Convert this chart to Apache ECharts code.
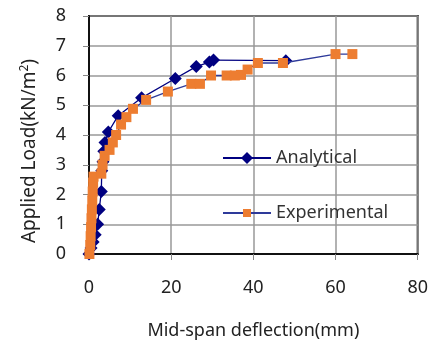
<!DOCTYPE html>
<html>
<head>
<meta charset="utf-8">
<script src="https://cdn.jsdelivr.net/npm/echarts@6/dist/echarts.min.js"></script>
<style>
  html, body { margin: 0; padding: 0; background: #fff; }
  #chart { width: 431px; height: 345px; }
</style>
</head>
<body>
<div id="chart"></div>
<script>
// data: [deflection mm, load kN/m2]
var analytical = [
  [0, 0], [0.5, 0.2], [1.0, 0.4], [1.5, 0.65], [2.1, 1.0], [2.5, 1.5], [3.0, 2.1],
  [3.1, 2.8], [3.4, 3.1], [3.6, 3.45], [3.9, 3.75], [4.7, 4.1], [7.1, 4.65],
  [12.8, 5.25], [21.0, 5.9], [26.1, 6.3], [29.3, 6.45], [30.3, 6.52], [47.9, 6.5]
];
var experimental = [
  [0.1, 0], [0.3, 0.3], [0.4, 0.6], [0.5, 0.9], [0.6, 1.2], [0.7, 1.5], [0.8, 1.8],
  [0.9, 2.1], [1.0, 2.4], [1.1, 2.6],
  [3.0, 2.7], [3.3, 3.0], [3.8, 3.3], [5.0, 3.5], [5.8, 3.75], [6.6, 4.0],
  [7.8, 4.35], [9.1, 4.6], [10.7, 4.88], [13.9, 5.18], [19.2, 5.46], [24.9, 5.72],
  [27.0, 5.72], [29.7, 6.0], [33.5, 6.0], [35.5, 6.0], [37.0, 6.02], [38.6, 6.2],
  [41.1, 6.42], [47.2, 6.42], [60.0, 6.72], [64.1, 6.72]
];
var seriesNames = ['Analytical', 'Experimental'];

var chart = echarts.init(document.getElementById('chart'));
var font = 'Noto Sans';
var legendText = { fontSize: 18, color: '#333', fontFamily: font };

var option = {
  animation: false,
  textStyle: { fontFamily: font },
  grid: {
    left: 89, right: 12, top: 16, bottom: 88,
    show: true, borderColor: '#111', borderWidth: 2
  },
  // two legends so the two markers keep their own sizes
  legend: [{
    data: [seriesNames[0]],
    left: 217, top: 144,
    itemWidth: 48, itemHeight: 15,
    textStyle: legendText
  }, {
    data: [seriesNames[1]],
    left: 217, top: 199,
    itemWidth: 48, itemHeight: 10,
    textStyle: legendText
  }],
  xAxis: {
    type: 'value', min: 0, max: 80, interval: 20,
    name: 'Mid-span deflection(mm)', nameLocation: 'middle', nameGap: 68,
    nameTextStyle: { fontSize: 18, color: '#222' },
    axisLine: { lineStyle: { color: '#111', width: 2 } },
    axisTick: { show: true, length: 6, lineStyle: { color: '#888' } },
    axisLabel: { fontSize: 18, color: '#222', margin: 25 },
    splitLine: { lineStyle: { color: '#999', width: 1.5 } }
  },
  yAxis: {
    type: 'value', min: 0, max: 8, interval: 1,
    name: '{n|Applied Load(kN/m}{s|2}{n|)}', nameLocation: 'middle', nameGap: 48,
    nameTextStyle: {
      color: '#222', padding: [0, 32, 0, 0],
      rich: {
        n: { fontSize: 19, color: '#222', fontFamily: font },
        s: { fontSize: 12, color: '#222', fontFamily: font, verticalAlign: 'top', padding: [0, 0, 10, 0] }
      }
    },
    axisLine: { lineStyle: { color: '#111', width: 2 } },
    axisTick: { show: true, length: 6, lineStyle: { color: '#888' } },
    axisLabel: { fontSize: 18, color: '#222', margin: 23 },
    splitLine: { lineStyle: { color: '#999', width: 1.5 } }
  },
  series: [{
    name: seriesNames[0],
    type: 'line',
    data: analytical,
    symbol: 'diamond', symbolSize: 13,
    itemStyle: { color: '#000080' },
    lineStyle: { color: '#000080', width: 1.3 },
    z: 2
  }, {
    name: seriesNames[1],
    type: 'line',
    data: experimental,
    symbol: 'rect', symbolSize: 10,
    itemStyle: { color: '#ED7D31' },
    lineStyle: { color: '#2E3A9A', width: 1.3 },
    z: 3
  }]
};
chart.setOption(option);
</script>
</body>
</html>
